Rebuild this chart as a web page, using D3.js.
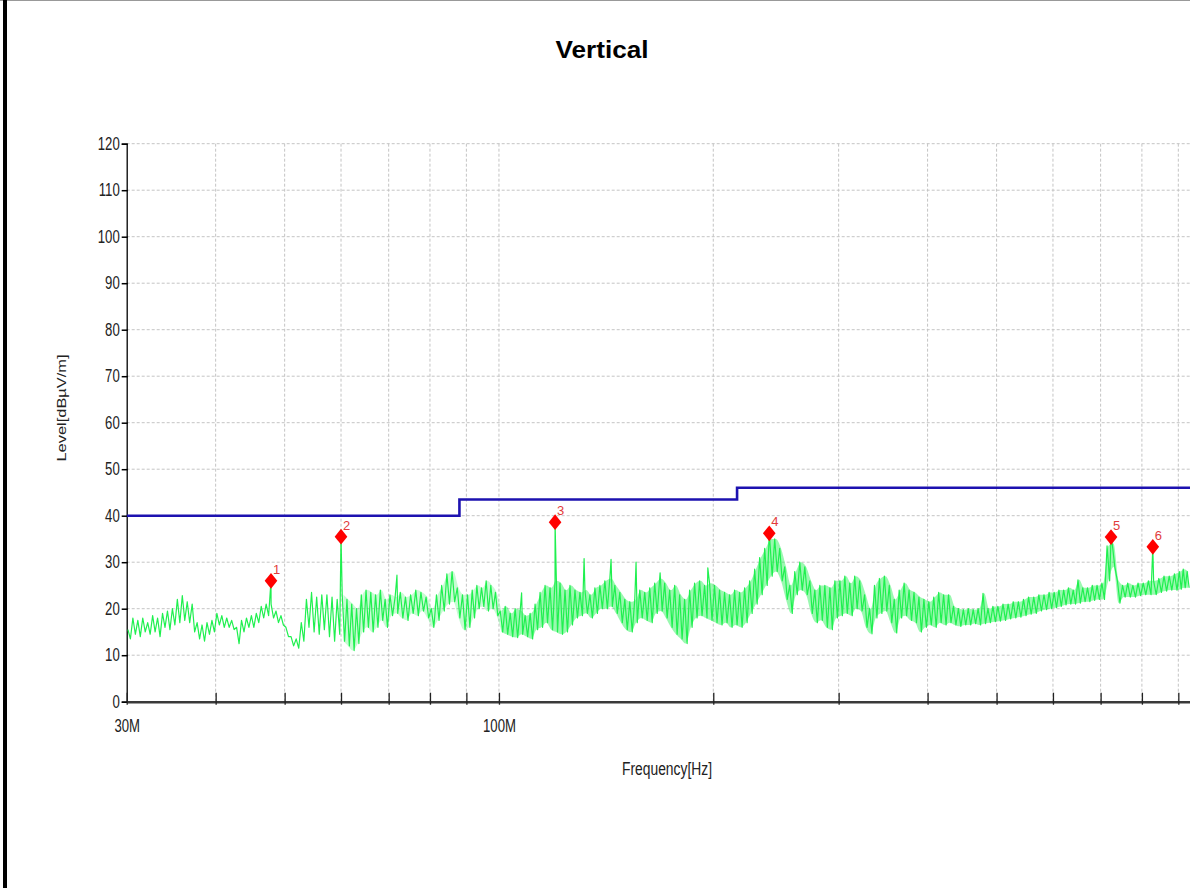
<!DOCTYPE html>
<html><head><meta charset="utf-8">
<script src="https://cdn.jsdelivr.net/npm/d3@7"></script>
<style>body{margin:0;background:#fff;} svg{display:block}</style>
</head><body>
<script>
// ---------- data ----------
const title = "Vertical";
const xLabel = "Frequency[Hz]";
const yLabel = "Level[dB\u00B5V/m]";
const yTicks = [0,10,20,30,40,50,60,70,80,90,100,110,120];
const xGrid = [40,50,60,70,80,90,100,200,300,400,500,600,700,800,900];
const xTickFreq = [30,100];
const xTickText = ["30M","100M"];

// limit line (MHz, dBuV/m)
const limitFreq  = [30,88,88,216,216,960,960,1000];
const limitLevel = [40,40,43.5,43.5,46,46,54,54];

// markers
const markerNo    = [1,2,3,4,5,6];
const markerFreq  = [47.84,60.0,119.9,239.7,724,828.7];
const markerLevel = [26.0,35.5,38.6,36.2,35.4,33.3];

// trace: segments between grid frequencies, upper/lower excursions
const segFrom = [30,40,50,60,70,80,90,100,200,300,400,500,600,700,800,900];
const segTo   = [40,50,60,70,80,90,100,200,300,400,500,600,700,800,900,935];
const segHi = [
 [15.5,18,17.5,18,17,18.5,18,19,19.5,20,22,22.8,21.5,21,17,16.5,17,17.5],
 [19,18.5,18,17.5,16,17.5,18,18.5,19,20.5,21,21,19.5,18.5],
 [16,14,13.5,17,22,23.5,22.5,23,23,22.5,22],
 [23,22,21,20,23,24,23.5,23,24,22],
 [23,22.5,23.5,22.5,23,24,23.5,22.5],
 [20,23,25,27.5,28,24.5,23],
 [23,24,25,24.5,26,25,23.5],
 [19.5,20.5,19,20,19.5,18.5,19,21,23.5,25,24.5,26,25.5,24,25,24,23.5,24,23,24.5,25,26,26.5,25,23.5,22,21.5,22,24,23.5,24.5,25.5,26.5,25.5,24,25,23,22,24,25.5,26,25,25.5],
 [25,24,23.5,23,24,23.5,24.5,26,28.5,31,33,35,35,33,29,25,28,30,29,26,24,25,25,24.5,26],
 [26,27,25.5,27,26,23,20,25,26.5,27,25,22,24,25.5,24,23.5,22.5,22],
 [21.5,22.5,23.5,23,23,20.5,20,19.8,20,19.8,20,23.3,20,20.5],
 [20.5,21,21,21.5,21.5,22,22.5,22.5,23,23,23.5],
 [23.5,24,24,24.5,24,26.2,24.5,24.5,25,25],
 [25.5,33.5,34,26,25,25.5,25,25.5],
 [25.5,26,26,26.5,27,27,27.5],
 [28,28.5,28]
];
const segLo = [
 [13.5,14.5,14,15,14.5,15,14,16,15.5,16.5,17,17.5,17,15,13.5,13,14.5,15],
 [16.5,16,16,15.5,12.5,15,16,16,17,18,18.5,18,17,16.5],
 [14,12,11.5,13,16,15,14.5,15.5,14,13,14.5],
 [13,12,11,12.5,15,16,15,16,17.5,16],
 [18.5,19,18,17.5,19,18.5,19.5,18],
 [16,17.5,19.5,21,21.5,18,15.5],
 [16,18,20,20.5,19.5,20,18.5],
 [15,14.5,14,13.8,14.5,14,13.5,15.5,16,17,15.5,15,14.5,15,16.5,18,18.5,19,18,19,20,20,20.5,19,17,15.5,15,17,18,17.5,17,19,19.5,18,16,14.5,13.5,12.5,16,18,18.5,18,17.5],
 [17,16.5,17,16,16.5,16,17,19,21,23,25,27,28,26,22,19,23,24,23,19,17,17.5,16,15.5,18],
 [18.5,19,18.5,20,19.5,16,14.6,18,19,19.5,17,14.8,18,18.5,17.5,17,15,16],
 [16.5,16,17,16.5,17,16.5,16.2,16.5,16.5,16.8,16.5,16.8,17,17.2],
 [17.3,17.5,17.8,18,18.2,18.5,18.8,19,19.5,19.8,20],
 [20.2,20.5,20.8,21,21,21.2,21.5,21.5,21.8,22],
 [22,26,29,21.2,22.5,22.5,22.5,22.8],
 [23,23,23,23.5,23.8,24,24],
 [24.2,24.5,24.5]
];
// narrow spikes seen in the trace
const spikeFreq  = [47.84,60.0,71.9,107.6,119.9,131.7,143.7,155.8,168.4,196.5,239.7,724,828.7];
const spikeLevel = [26.0,35.5,27.2,23.4,38.6,30.8,30.6,30.0,27.7,28.8,36.2,35.4,33.3];

// ---------- drawing ----------
const W = 1190, H = 888;
const NARROW = 0.73;
const svg = d3.select("body").append("svg").attr("width", W).attr("height", H)
  .style("font-family", "'Liberation Sans', Arial, sans-serif");
svg.append("rect").attr("width", W).attr("height", H).attr("fill", "#fff");

function squeeze(sel, factor) {
  sel.each(function () {
    const w = this.getComputedTextLength();
    if (w > 0) this.setAttribute("textLength", w * factor);
    this.setAttribute("lengthAdjust", "spacingAndGlyphs");
  });
}

const x = d3.scaleLog().domain([30, 1000]).range([126.7, 1210.9]);
const y = d3.scaleLinear().domain([0, 120]).range([701.7, 143.7]);

// frame
svg.append("line").attr("x1", 0).attr("x2", W).attr("y1", 0.5).attr("y2", 0.5)
  .attr("stroke", "#999").attr("stroke-width", 1.2);
svg.append("rect").attr("x", 3).attr("y", 0).attr("width", 4).attr("height", H).attr("fill", "#000");

// title
svg.append("text").attr("x", 602).attr("y", 58).attr("text-anchor", "middle")
  .attr("font-size", 23).attr("font-weight", "bold").attr("fill", "#000")
  .attr("textLength", 93).attr("lengthAdjust", "spacingAndGlyphs").text(title);

// grid
const grid = svg.append("g").attr("stroke", "#c4c4c4").attr("stroke-width", 1).attr("stroke-dasharray", "3,2");
grid.selectAll("line.h").data(yTicks.filter(d => d > 0)).join("line")
  .attr("x1", x(30)).attr("x2", x(1000)).attr("y1", d => y(d)).attr("y2", d => y(d));
grid.selectAll("line.v").data(xGrid).join("line")
  .attr("x1", d => x(d)).attr("x2", d => x(d)).attr("y1", y(120)).attr("y2", y(0));

// y axis
const yAxis = d3.axisLeft(y).tickValues(yTicks).tickSize(5).tickPadding(2);
const gy = svg.append("g").attr("transform", `translate(${x(30)},0)`).call(yAxis);
gy.select(".domain").attr("stroke", "#000").attr("stroke-width", 1.3);
gy.selectAll(".tick line").attr("stroke", "#000").attr("stroke-width", 1.5).attr("x2", -5).attr("x1", 1);
gy.selectAll(".tick text").attr("font-size", 18).attr("fill", "#222").attr("font-family", "'Liberation Sans', Arial, sans-serif");
squeeze(gy.selectAll(".tick text"), NARROW);

// x axis
const xAxis = d3.axisBottom(x).tickValues(xGrid.concat([30])).tickSize(0)
  .tickFormat(d => { const i = xTickFreq.indexOf(d); return i >= 0 ? xTickText[i] : ""; });
const gx = svg.append("g").attr("transform", `translate(0,${y(0)})`).call(xAxis);
gx.select(".domain").attr("stroke", "#3a3a3a").attr("stroke-width", 2.5);
gx.selectAll(".tick line").attr("stroke", "#222").attr("stroke-width", 1.3).attr("y1", -9).attr("y2", 3);
gx.selectAll(".tick text").attr("font-size", 18).attr("fill", "#222").attr("y", 30).attr("dy", null);
squeeze(gx.selectAll(".tick text"), NARROW);

// axis labels
svg.append("text").attr("x", 667).attr("y", 775).attr("text-anchor", "middle")
  .attr("font-size", 18).attr("fill", "#222")
  .attr("textLength", 90).attr("lengthAdjust", "spacingAndGlyphs").text(xLabel);
svg.append("text").attr("transform", "translate(66,408) rotate(-90)").attr("text-anchor", "middle")
  .attr("font-size", 13).attr("fill", "#222")
  .attr("textLength", 107).attr("lengthAdjust", "spacingAndGlyphs").text(yLabel);

// clip
svg.append("clipPath").attr("id", "plotclip").append("rect")
  .attr("x", x(30)).attr("y", y(120) - 30).attr("width", x(1000) - x(30)).attr("height", y(0) - y(120) + 30);
const plot = svg.append("g").attr("clip-path", "url(#plotclip)");

// trace
const pts = [], band = [];
segFrom.forEach((f0, i) => {
  const f1 = segTo[i], hi = segHi[i], lo = segLo[i], n = hi.length;
  for (let k = 0; k < n; k++) {
    pts.push([f0 * Math.pow(f1 / f0, (k + 0.25) / n), hi[k]]);
    pts.push([f0 * Math.pow(f1 / f0, (k + 0.75) / n), lo[k]]);
    band.push([f0 * Math.pow(f1 / f0, (k + 0.5) / n), lo[k], hi[k]]);
  }
});
spikeFreq.forEach((f, i) => pts.push([f, spikeLevel[i]]));
pts.sort((a, b) => a[0] - b[0]);
const line = d3.line().x(d => x(d[0])).y(d => y(d[1]));
const area = d3.area().x(d => x(d[0])).y0(d => y(d[1])).y1(d => y(d[2])).curve(d3.curveMonotoneX);
// dense noise band (beyond ~60 MHz the trace fills its envelope)
plot.append("path").datum(band.filter(d => d[0] >= 100)).attr("d", area)
  .attr("fill", "#1ff04f").attr("fill-opacity", 0.45);
plot.append("path").datum(band.filter(d => d[0] >= 60 && d[0] <= 101)).attr("d", area)
  .attr("fill", "#1ff04f").attr("fill-opacity", 0.25);
plot.append("path").datum(pts).attr("d", line).attr("fill", "none")
  .attr("stroke", "#1ff04f").attr("stroke-width", 1.2).attr("stroke-linejoin", "round");

// limit line
const lim = limitFreq.map((f, i) => [f, limitLevel[i]]);
plot.append("path").datum(lim).attr("d", line).attr("fill", "none")
  .attr("stroke", "#1d12b0").attr("stroke-width", 2.6);

// markers
const sym = d3.symbol(d3.symbolSquare, 80);
const mk = plot.selectAll("g.mk").data(markerNo).join("g")
  .attr("transform", (d, i) => `translate(${x(markerFreq[i])},${y(markerLevel[i])})`);
mk.append("path").attr("d", sym).attr("transform", "scale(1,1.25) rotate(45)").attr("fill", "#ff0000");
mk.append("text").attr("x", 2).attr("y", -7).attr("font-size", 13).attr("fill", "#e23b3b")
  .text(d => d);
</script>
</body></html>
